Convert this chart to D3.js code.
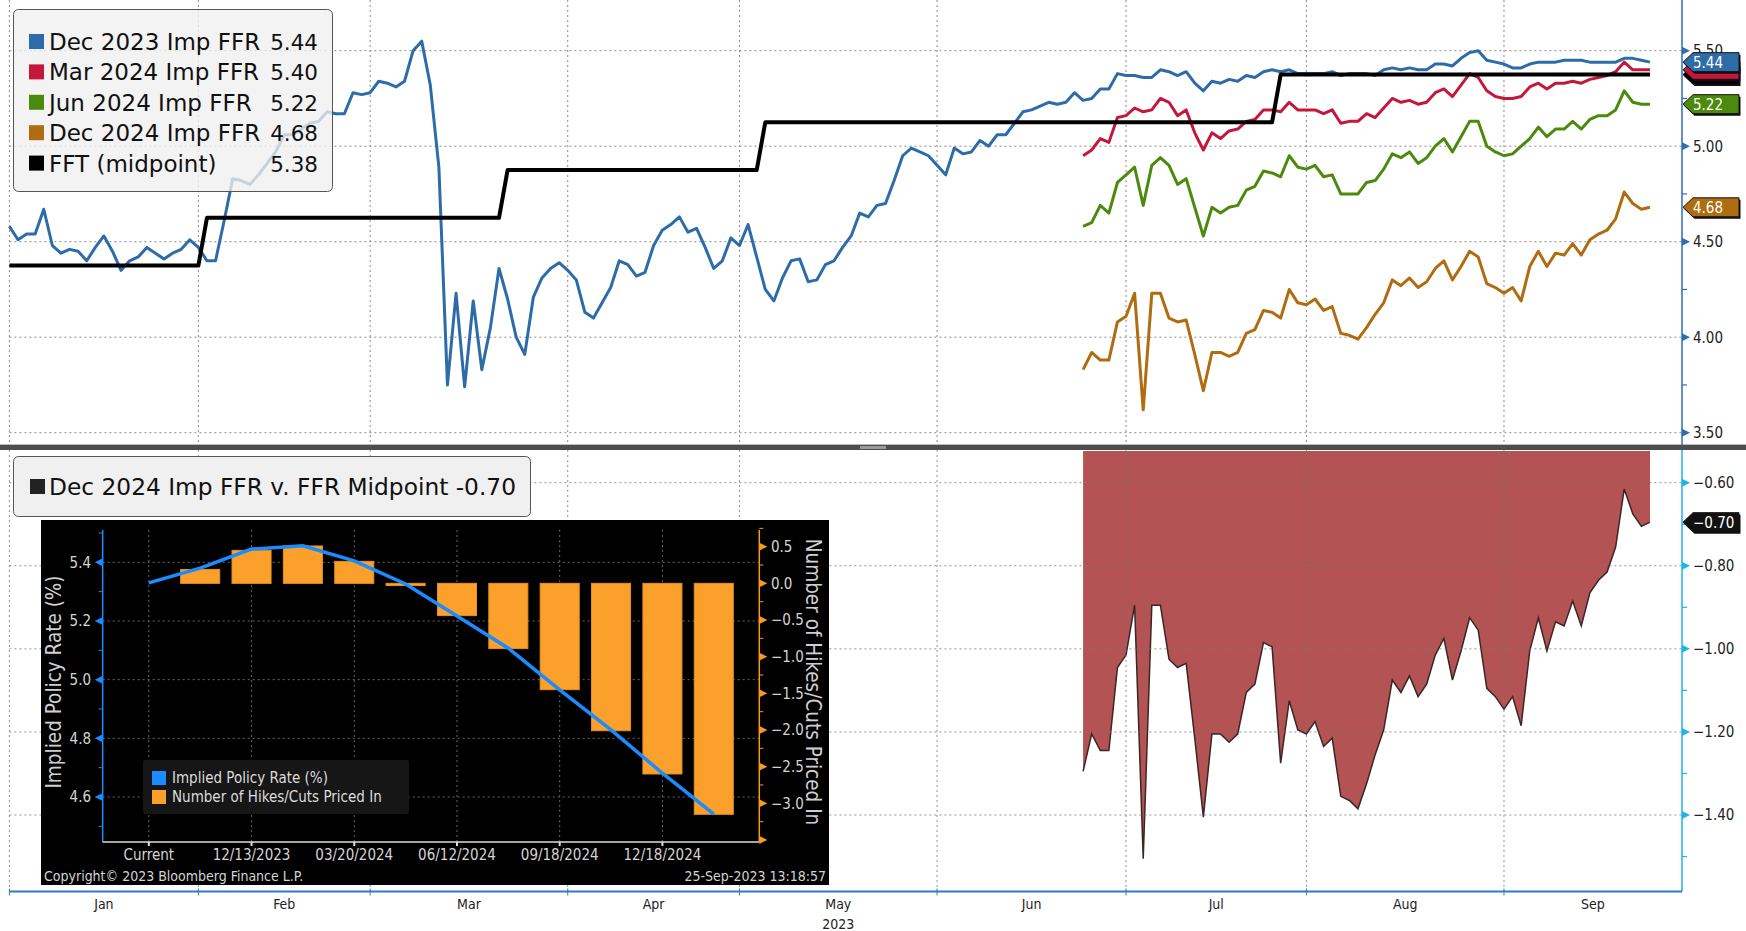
<!DOCTYPE html>
<html>
<head>
<meta charset="utf-8">
<script src="https://cdn.jsdelivr.net/npm/d3@7"></script>
<style>
  body { margin: 0; background: #fff; }
  svg { display: block; }
  .cond { font-family: "DejaVu Sans Condensed", "Liberation Sans Narrow", "DejaVu Sans", sans-serif; }
  .leg { font-family: "DejaVu Sans", Verdana, sans-serif; }
</style>
</head>
<body>
<svg id="chart" width="1746" height="931"></svg>
<script>
// ---- data (weekday index 0 = 2 Jan 2023) ----
var monthStarts = [0, 22, 42, 65, 85, 108, 130, 151, 174];
var monthNames = ["Jan", "Feb", "Mar", "Apr", "May", "Jun", "Jul", "Aug", "Sep"];

var dec23 = [4.58,4.51,4.54,4.54,4.67,4.48,4.44,4.46,4.45,4.40,4.47,4.53,4.45,4.35,4.40,4.42,4.47,4.44,4.41,4.44,
  4.46,4.51,4.47,4.40,4.40,4.61,4.83,4.82,4.80,4.85,4.91,4.97,5.06,5.06,5.09,5.12,5.13,5.18,5.17,5.17,
  5.28,5.27,5.28,5.34,5.33,5.31,5.34,5.50,5.55,5.32,4.89,3.75,4.23,3.74,4.19,3.83,4.05,4.36,4.20,4.00,
  3.91,4.21,4.31,4.36,4.39,4.35,4.30,4.13,4.10,4.18,4.26,4.40,4.38,4.32,4.34,4.48,4.56,4.59,4.63,4.55,
  4.57,4.47,4.36,4.40,4.52,4.48,4.59,4.42,4.25,4.19,4.31,4.40,4.41,4.29,4.30,4.38,4.40,4.47,4.53,4.65,
  4.63,4.69,4.70,4.82,4.95,4.99,4.97,4.95,4.90,4.85,4.99,4.96,4.97,5.03,5.00,5.06,5.06,5.12,5.18,5.19,
  5.21,5.23,5.22,5.23,5.28,5.24,5.25,5.30,5.30,5.38,5.37,5.37,5.36,5.36,5.40,5.39,5.37,5.39,5.33,5.29,
  5.34,5.33,5.35,5.34,5.37,5.36,5.39,5.40,5.39,5.40,5.38,5.38,5.38,5.38,5.39,5.37,5.38,5.38,5.38,5.37,
  5.40,5.41,5.40,5.41,5.40,5.40,5.43,5.43,5.42,5.46,5.49,5.50,5.45,5.44,5.43,5.41,5.41,5.43,5.44,5.44,
  5.44,5.45,5.45,5.45,5.44,5.44,5.44,5.44,5.46,5.46,5.45,5.44];

var fwdStart = 125;
var mar24 = [4.95,4.98,5.04,5.02,5.15,5.16,5.20,5.18,5.19,5.25,5.23,5.16,5.19,5.07,4.98,5.07,5.04,5.08,5.09,5.13,
  5.14,5.19,5.19,5.18,5.23,5.19,5.19,5.19,5.17,5.19,5.12,5.13,5.13,5.17,5.15,5.20,5.25,5.23,5.24,5.22,
  5.23,5.28,5.30,5.26,5.32,5.38,5.36,5.29,5.26,5.25,5.25,5.26,5.31,5.33,5.30,5.33,5.33,5.34,5.33,5.35,
  5.36,5.37,5.39,5.44,5.40,5.40,5.40];
var jun24 = [4.58,4.60,4.69,4.65,4.81,4.85,4.89,4.69,4.90,4.94,4.90,4.80,4.83,4.68,4.53,4.68,4.65,4.68,4.69,4.77,
  4.79,4.87,4.86,4.84,4.95,4.89,4.88,4.90,4.84,4.85,4.75,4.75,4.75,4.81,4.82,4.88,4.96,4.94,4.97,4.91,
  4.94,5.00,5.04,4.97,5.05,5.13,5.13,5.00,4.97,4.95,4.96,5.00,5.04,5.10,5.05,5.09,5.09,5.13,5.09,5.14,
  5.16,5.16,5.19,5.29,5.23,5.22,5.22];
var dec24 = [3.83,3.92,3.88,3.88,4.08,4.11,4.23,3.62,4.23,4.23,4.10,4.08,4.09,3.91,3.72,3.92,3.92,3.90,3.92,4.02,
  4.04,4.14,4.13,4.10,4.25,4.18,4.17,4.20,4.14,4.16,4.02,4.01,3.99,4.05,4.12,4.18,4.30,4.27,4.31,4.26,
  4.29,4.36,4.40,4.30,4.37,4.45,4.42,4.28,4.26,4.23,4.26,4.19,4.37,4.45,4.37,4.44,4.43,4.49,4.43,4.51,
  4.54,4.56,4.62,4.76,4.70,4.67,4.68];

// fed funds target midpoint: first weekday index of each level
var ffrStart = [0, 23, 58, 88, 148];
var ffrLevel = [4.375, 4.625, 4.875, 5.125, 5.375];

var topTicks = [3.5, 4.0, 4.5, 5.0, 5.5];
var topMinor = [3.75, 4.25, 4.75, 5.25];
var botTicks = [-1.4, -1.2, -1.0, -0.8, -0.6];
var botMinor = [-1.5, -1.3, -1.1, -0.9, -0.7];

// inset: WIRP by meeting
var meetings = ["Current","11/01/2023","12/13/2023","01/31/2024","03/20/2024","05/01/2024",
  "06/12/2024","07/31/2024","09/18/2024","11/07/2024","12/18/2024","01/29/2025"];
var impliedRate = [5.33, 5.38, 5.445, 5.456, 5.405, 5.326, 5.217, 5.107, 4.965, 4.829, 4.681, 4.542];
var hikesCuts = [0.0, 0.19, 0.45, 0.51, 0.30, -0.03, -0.44, -0.89, -1.45, -2.01, -2.60, -3.15];
var insetLeftTicks = [4.6, 4.8, 5.0, 5.2, 5.4];
var insetLeftMinor = [4.5, 4.7, 4.9, 5.1, 5.3, 5.5];
var insetRightTicks = [-3.5, -3.0, -2.5, -2.0, -1.5, -1.0, -0.5, 0.0, 0.5];
var insetRightMinor = [-3.25, -2.75, -2.25, -1.75, -1.25, -0.75, -0.25, 0.25, 0.75];

var seriesNames = ["Dec 2023 Imp FFR", "Mar 2024 Imp FFR", "Jun 2024 Imp FFR", "Dec 2024 Imp FFR", "FFT (midpoint)"];
var colors = ["#2d6ca8", "#c4183a", "#4c8a0e", "#b06c10", "#000000"];

// ---- helpers ----
function ffrAt(i) {
  var v = ffrLevel[0];
  ffrStart.forEach(function(s, k) { if (i >= s) v = ffrLevel[k]; });
  return v;
}
function pts(arr, start) {
  return arr.map(function(v, k) { return {i: start + k, v: v}; });
}
var ffrPts = d3.range(0, dec23.length).map(function(i) { return {i: i, v: ffrAt(i)}; });
var spread = dec24.map(function(v, k) { return v - ffrAt(fwdStart + k); });

var svg = d3.select("#chart"),
    axisX = 1682,
    topH = 446, botTop = 450, botBottom = 891.5;

var x = d3.scaleLinear().domain([0, 191]).range([9.4, 1650]);
var yTop = d3.scaleLinear().domain([3.5, 5.5]).range([432.7, 50.7]);
var yBot = d3.scaleLinear().domain([-1.4, -0.6]).range([815, 482.7]);

var monthX = monthStarts.map(function(s) { return x(s); });
var monthMid = monthX.map(function(v, k) { return (v + (k < monthX.length - 1 ? monthX[k + 1] : axisX)) / 2; });

// ---- grid ----
var grid = svg.append("g").attr("stroke", "#8a8a8a").attr("stroke-dasharray", "2,3").attr("stroke-width", 1);
grid.selectAll(".vt").data(monthX).enter().append("line")
    .attr("x1", function(d) { return d; }).attr("x2", function(d) { return d; })
    .attr("y1", 0).attr("y2", topH);
grid.selectAll(".ht").data(topTicks).enter().append("line")
    .attr("x1", 9.4).attr("x2", axisX)
    .attr("y1", function(d) { return yTop(d); }).attr("y2", function(d) { return yTop(d); });

// ---- top lines ----
var line = d3.line().x(function(d) { return x(d.i); }).y(function(d) { return yTop(d.v); });
var topSeries = [pts(dec23, 0), pts(mar24, fwdStart), pts(jun24, fwdStart), pts(dec24, fwdStart), ffrPts];
svg.append("g").selectAll("path").data(topSeries).enter().append("path")
    .attr("d", line)
    .attr("fill", "none")
    .attr("stroke", function(d, k) { return colors[k]; })
    .attr("stroke-width", function(d, k) { return k == 4 ? 4 : 3; })
    .attr("stroke-linejoin", "round");

// ---- bottom panel ----
var area = d3.area()
    .x(function(d) { return x(d.i); })
    .y0(botTop + 1)
    .y1(function(d) { return yBot(d.v); });
var spreadPts = pts(spread, fwdStart);
svg.append("path").datum(spreadPts).attr("d", area).attr("fill", "#b35353");
svg.append("path").datum(spreadPts)
    .attr("d", d3.line().x(function(d) { return x(d.i); }).y(function(d) { return yBot(d.v); }))
    .attr("fill", "none").attr("stroke", "#3a2626").attr("stroke-width", 1.5);

var grid2 = svg.append("g").attr("stroke", "#777").attr("stroke-opacity", 0.8).attr("stroke-dasharray", "2,3");
grid2.selectAll(".vb").data(monthX).enter().append("line")
    .attr("x1", function(d) { return d; }).attr("x2", function(d) { return d; })
    .attr("y1", botTop).attr("y2", botBottom);
grid2.selectAll(".hb").data(botTicks).enter().append("line")
    .attr("x1", 9.4).attr("x2", axisX)
    .attr("y1", function(d) { return yBot(d); }).attr("y2", function(d) { return yBot(d); });

// divider between panels
svg.append("rect").attr("x", 0).attr("y", topH - 1).attr("width", 1746).attr("height", 5).attr("fill", "#4d4d4d");
svg.append("rect").attr("x", 0).attr("y", topH - 2).attr("width", 1746).attr("height", 1).attr("fill", "#bbb");
svg.append("rect").attr("x", 860).attr("y", topH).attr("width", 26).attr("height", 3).attr("fill", "#9a9a9a");

// ---- right axes ----
var topAxisCol = "#2e6db3", botAxisCol = "#1fb2ee";
svg.append("line").attr("x1", axisX).attr("x2", axisX).attr("y1", 0).attr("y2", topH - 1)
    .attr("stroke", topAxisCol).attr("stroke-width", 1.5);
svg.append("line").attr("x1", axisX).attr("x2", axisX).attr("y1", topH + 4).attr("y2", botBottom)
    .attr("stroke", botAxisCol).attr("stroke-width", 1.5);

function tri(g, ys, col) {
  g.selectAll(null).data(ys).enter().append("path")
      .attr("d", function(d) { return "M" + axisX + "," + (d - 4) + "L" + (axisX + 8) + "," + d + "L" + axisX + "," + (d + 4) + "Z"; })
      .attr("fill", col);
}
function minor(g, ys, col) {
  g.selectAll(null).data(ys).enter().append("line")
      .attr("x1", axisX).attr("x2", axisX + 5)
      .attr("y1", function(d) { return d; }).attr("y2", function(d) { return d; })
      .attr("stroke", col).attr("stroke-width", 1.2);
}

var ta = svg.append("g");
tri(ta, topTicks.map(yTop), topAxisCol);
minor(ta, topMinor.map(yTop), topAxisCol);
svg.append("g").attr("class", "cond")
    .attr("transform", "translate(" + axisX + ",0)")
    .call(d3.axisRight(yTop).tickValues(topTicks).tickFormat(d3.format(".2f")).tickSize(0).tickPadding(11))
    .call(function(g) { g.select(".domain").remove(); })
    .selectAll("text").attr("font-size", 15).attr("fill", "#222")
    .attr("font-family", null);

var ba = svg.append("g");
tri(ba, botTicks.map(yBot), botAxisCol);
minor(ba, botMinor.map(yBot), botAxisCol);
svg.append("g").attr("class", "cond")
    .attr("transform", "translate(" + axisX + ",0)")
    .call(d3.axisRight(yBot).tickValues(botTicks).tickFormat(d3.format(".2f")).tickSize(0).tickPadding(11))
    .call(function(g) { g.select(".domain").remove(); })
    .selectAll("text").attr("font-size", 15).attr("fill", "#222")
    .attr("font-family", null);

// bottom x axis
svg.append("line").attr("x1", 9.4).attr("x2", axisX).attr("y1", botBottom).attr("y2", botBottom)
    .attr("stroke", "#2f7cc4").attr("stroke-width", 2);
svg.append("g").selectAll("line").data(monthX).enter().append("line")
    .attr("x1", function(d) { return d; }).attr("x2", function(d) { return d; })
    .attr("y1", botBottom - 3).attr("y2", botBottom + 4)
    .attr("stroke", "#2f7cc4").attr("stroke-width", 1);
svg.append("g").attr("class", "cond").selectAll("text").data(monthNames).enter().append("text")
    .attr("x", function(d, k) { return monthMid[k]; })
    .attr("y", 909)
    .attr("text-anchor", "middle").attr("font-size", 14).attr("fill", "#222")
    .text(function(d) { return d; });
svg.append("text").attr("class", "cond")
    .attr("x", monthMid[4]).attr("y", 929)
    .attr("text-anchor", "middle").attr("font-size", 14).attr("fill", "#222")
    .text("2023");

// ---- value tags on the right ----
function tag(v, y, fill, showText) {
  var p = "M" + (axisX + 1) + "," + y + "L" + (axisX + 11) + "," + (y - 9.5) + "L1739," + (y - 9.5) +
          "L1739," + (y + 9.5) + "L" + (axisX + 11) + "," + (y + 9.5) + "Z";
  var g = svg.append("g");
  g.append("path").attr("d", p).attr("transform", "translate(1.5,2)").attr("fill", "#111");
  g.append("path").attr("d", p).attr("fill", fill).attr("stroke", "#111").attr("stroke-width", 1);
  if (showText) {
    g.append("text").attr("class", "cond")
        .attr("x", axisX + 11).attr("y", y).attr("dy", "0.36em")
        .attr("font-size", 15).attr("fill", "#fff")
        .text(v);
  }
}
var lastVals = [dec23[dec23.length - 1], mar24[mar24.length - 1], jun24[jun24.length - 1],
                dec24[dec24.length - 1], ffrPts[ffrPts.length - 1].v];
var f2 = d3.format(".2f");
// black and red tags sit almost fully under the blue one
[4, 1, 0, 2, 3].forEach(function(k) { tag(f2(lastVals[k]), yTop(lastVals[k]), colors[k], k != 4 && k != 1); });
var lastSpread = spread[spread.length - 1];
tag(f2(lastSpread), yBot(lastSpread), "#111", true);

// ---- legends ----
var lg = svg.append("g").attr("class", "leg");
lg.append("rect").attr("x", 13.5).attr("y", 9.5).attr("width", 319).attr("height", 182).attr("rx", 5)
    .attr("fill", "#f0f0f0").attr("fill-opacity", 0.78).attr("stroke", "#555").attr("stroke-width", 1);
var rows = lg.selectAll(".row").data(seriesNames).enter().append("g")
    .attr("transform", function(d, k) { return "translate(0," + (41.5 + k * 30.4) + ")"; });
rows.append("rect").attr("x", 29).attr("y", -7.5).attr("width", 15).attr("height", 15)
    .attr("fill", function(d, k) { return colors[k]; });
rows.append("text").attr("x", 49).attr("y", 8.5).attr("font-size", 23).attr("fill", "#111")
    .text(function(d) { return d; });
rows.append("text").attr("x", 318).attr("y", 8.5).attr("font-size", 21.5).attr("fill", "#111")
    .attr("text-anchor", "end")
    .text(function(d, k) { return lastVals[k].toFixed(2); });

var lg2 = svg.append("g").attr("class", "leg");
lg2.append("rect").attr("x", 13.5).attr("y", 456.5).attr("width", 517).attr("height", 60).attr("rx", 5)
    .attr("fill", "#f0f0f0").attr("stroke", "#555").attr("stroke-width", 1);
lg2.append("rect").attr("x", 30).attr("y", 479).attr("width", 15).attr("height", 15).attr("fill", "#222");
lg2.append("text").attr("x", 49).attr("y", 495).attr("font-size", 23.3).attr("fill", "#111")
    .text("Dec 2024 Imp FFR v. FFR Midpoint " + lastSpread.toFixed(2));

// ---- inset (WIRP) ----
var ins = svg.append("g").attr("class", "cond");
ins.append("rect").attr("x", 41).attr("y", 520).attr("width", 788).attr("height", 365).attr("fill", "#000");

var xi = d3.scaleBand().domain(meetings).range([129.3, 733.3]).paddingInner(0.24).paddingOuter(0);
var yL = d3.scaleLinear().domain([4.6, 5.4]).range([797, 562.3]);
var yR = d3.scaleLinear().domain([-3, 0.5]).range([803.3, 546.7]);
var iL = 102.7, iR = 759.3, iT = 530, iB = 842;
var labelled = meetings.filter(function(d, k) { return k % 2 == 0; });
function cx(d) { return xi(d) + xi.bandwidth() / 2; }

var ig = ins.append("g").attr("stroke", "#666").attr("stroke-dasharray", "2,3");
ig.selectAll(".h").data(insetLeftTicks).enter().append("line")
    .attr("x1", iL).attr("x2", iR)
    .attr("y1", function(d) { return yL(d); }).attr("y2", function(d) { return yL(d); });
ig.selectAll(".v").data(labelled).enter().append("line")
    .attr("x1", cx).attr("x2", cx).attr("y1", iT).attr("y2", iB);

ins.append("g").selectAll("rect").data(hikesCuts).enter().append("rect")
    .attr("x", function(d, k) { return xi(meetings[k]); })
    .attr("width", xi.bandwidth())
    .attr("y", function(d) { return yR(Math.max(0, d)); })
    .attr("height", function(d) { return Math.abs(yR(d) - yR(0)); })
    .attr("fill", "#fba02a").attr("stroke", "#e8911f").attr("stroke-width", 1);

ins.append("path").datum(impliedRate)
    .attr("d", d3.line().x(function(d, k) { return cx(meetings[k]); }).y(function(d) { return yL(d); }))
    .attr("fill", "none").attr("stroke", "#1a8cff").attr("stroke-width", 3.5);

// inset axes
ins.append("line").attr("x1", iL).attr("x2", iL).attr("y1", iT).attr("y2", iB).attr("stroke", "#1a8cff").attr("stroke-width", 1.5);
ins.append("line").attr("x1", iR).attr("x2", iR).attr("y1", iT).attr("y2", iB).attr("stroke", "#f79a22").attr("stroke-width", 1.5);
ins.append("line").attr("x1", iL).attr("x2", iR).attr("y1", iB).attr("y2", iB).attr("stroke", "#ddd").attr("stroke-width", 1.5);
ins.selectAll(".lt").data(insetLeftTicks).enter().append("path")
    .attr("d", function(d) { var y = yL(d); return "M" + iL + "," + (y - 4) + "L" + (iL - 8) + "," + y + "L" + iL + "," + (y + 4) + "Z"; })
    .attr("fill", "#1a8cff");
ins.selectAll(".lm").data(insetLeftMinor).enter().append("line")
    .attr("x1", iL - 4).attr("x2", iL).attr("y1", function(d) { return yL(d); }).attr("y2", function(d) { return yL(d); })
    .attr("stroke", "#1a8cff");
ins.selectAll(".rt").data(insetRightTicks).enter().append("path")
    .attr("d", function(d) { var y = yR(d); return "M" + iR + "," + (y - 4) + "L" + (iR + 8) + "," + y + "L" + iR + "," + (y + 4) + "Z"; })
    .attr("fill", "#f79a22");
ins.selectAll(".rm").data(insetRightMinor).enter().append("line")
    .attr("x1", iR).attr("x2", iR + 4).attr("y1", function(d) { return yR(d); }).attr("y2", function(d) { return yR(d); })
    .attr("stroke", "#f79a22");
ins.selectAll(".bt").data(labelled).enter().append("line")
    .attr("x1", cx).attr("x2", cx).attr("y1", iB).attr("y2", iB + 4).attr("stroke", "#ddd").attr("stroke-width", 2);

ins.selectAll(".ll").data(insetLeftTicks).enter().append("text")
    .attr("x", 91).attr("y", function(d) { return yL(d); }).attr("dy", "0.35em")
    .attr("text-anchor", "end").attr("font-size", 15).attr("fill", "#d4d4d4")
    .text(d3.format(".1f"));
ins.selectAll(".rl").data(insetRightTicks.filter(function(d) { return d > -3.5; })).enter().append("text")
    .attr("x", 771).attr("y", function(d) { return yR(d); }).attr("dy", "0.35em")
    .attr("font-size", 15).attr("fill", "#d4d4d4")
    .text(d3.format(".1f"));
ins.selectAll(".xl").data(labelled).enter().append("text")
    .attr("x", cx).attr("y", 860).attr("text-anchor", "middle")
    .attr("font-size", 15).attr("fill", "#d4d4d4")
    .text(function(d) { return d; });

ins.append("text").attr("transform", "translate(61,682) rotate(-90)")
    .attr("text-anchor", "middle").attr("font-size", 20.5).attr("fill", "#cfcfcf")
    .text("Implied Policy Rate (%)");
ins.append("text").attr("transform", "translate(806,682) rotate(90)")
    .attr("text-anchor", "middle").attr("font-size", 20.5).attr("fill", "#cfcfcf")
    .text("Number of Hikes/Cuts Priced In");
ins.append("text").attr("x", 44).attr("y", 881).attr("font-size", 14).attr("fill", "#d4d4d4")
    .text("Copyright\u00a9 2023 Bloomberg Finance L.P.");
ins.append("text").attr("x", 826).attr("y", 881).attr("text-anchor", "end").attr("font-size", 14).attr("fill", "#d4d4d4")
    .text("25-Sep-2023 13:18:57");

var il = ins.append("g");
il.append("rect").attr("x", 143).attr("y", 760).attr("width", 266).attr("height", 54).attr("rx", 3).attr("fill", "#161616");
var ilNames = ["Implied Policy Rate (%)", "Number of Hikes/Cuts Priced In"];
var ilCols = ["#1a8cff", "#fba02a"];
il.selectAll(".s").data(ilNames).enter().append("rect")
    .attr("x", 152).attr("y", function(d, k) { return 771 + k * 19; })
    .attr("width", 14).attr("height", 14).attr("fill", function(d, k) { return ilCols[k]; });
il.selectAll(".t").data(ilNames).enter().append("text")
    .attr("x", 172).attr("y", function(d, k) { return 783 + k * 19; })
    .attr("font-size", 15).attr("fill", "#dcdcdc")
    .text(function(d) { return d; });
</script>
</body>
</html>
